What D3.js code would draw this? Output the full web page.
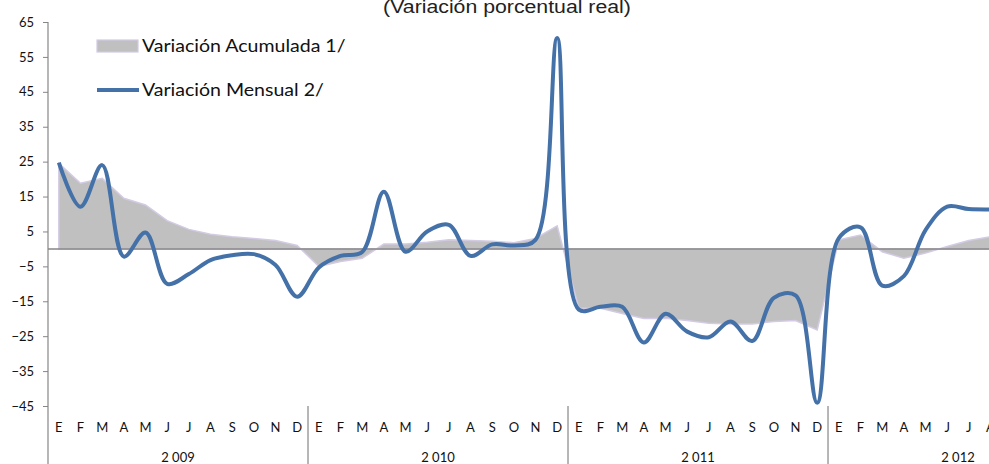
<!DOCTYPE html>
<html><head><meta charset="utf-8">
<script src="https://cdn.jsdelivr.net/npm/d3@7"></script>
<style>body{margin:0;background:#fff}svg{display:block}</style>
</head><body>
<svg id="c" width="989" height="464"></svg>
<script>
const monthLabels = ["E","F","M","A","M","J","J","A","S","O","N","D"];
const years = ["2 009","2 010","2 011","2 012"];
const monthsPerYear = [12,12,12,8];
const yTicks = [65,55,45,35,25,15,5,-5,-15,-25,-35,-45];
// Variación Acumulada 1/
const acumulada = [
 24.5,18.8,20.2,14.5,12.6,8.1,5.6,4.2,3.5,3.0,2.4,1.0,
 -5.0,-3.6,-2.7,1.4,1.4,1.9,2.6,2.4,2.2,1.8,3.0,6.6,
 -17.0,-17.0,-18.5,-19.9,-19.9,-20.5,-21.3,-21.5,-21.5,-20.8,-20.5,-23.2,
 2.6,4.0,-0.8,-2.7,-1.2,0.7,2.4,3.5
];
// Variación Mensual 2/
const mensual = [
 24.7,12.1,24.0,-2.2,4.7,-10.0,-7.2,-3.2,-1.8,-1.5,-4.6,-13.7,
 -5.3,-2.0,-0.9,16.4,-0.8,5.0,6.9,-2.0,1.3,1.0,2.6,60.4,
 -17.4,-16.6,-16.6,-26.8,-18.6,-23.7,-25.3,-20.8,-26.4,-14.0,-13.3,-44.1,
 3.1,6.2,-10.5,-7.8,5.4,12.1,11.4,11.3
];

const svg = d3.select("#c");
const N = mensual.length;
const idx = d3.range(N);
const x0 = 48, step = 21.667;
const x = d3.scaleBand().domain(idx).range([x0, x0 + N*step]).padding(0);
const y = d3.scaleLinear().domain([-45,65]).range([406,22]);
const cx = i => x(i) + x.bandwidth()/2;
const axisColor = "#868686";
const tickFont = "Lato, 'Open Sans', sans-serif";

function stext(parent, tx, ty, txt, opts) {
  const g = parent.append("g").attr("transform", `translate(${tx},${ty}) scale(${opts.sx||1},1)`);
  return g.append("text").attr("x",0).attr("y",0).attr("dy",opts.dy||"0.35em")
    .attr("text-anchor",opts.anchor||"start")
    .attr("font-family",opts.font||tickFont).attr("font-size",opts.size||13)
    .attr("fill",opts.fill||"#111").text(txt);
}

// title (partly cut at the top edge, as in the reference)
stext(svg, 507, 7, "(Variación porcentual real)",
  {anchor:"middle", dy:0, font:"'Liberation Sans', Arial, sans-serif", size:18.5, sx:1.15, fill:"#222"});

// area
const area = d3.area().x((d,i)=>cx(i)).y0(y(0)).y1(d=>y(d));
svg.append("path").datum(acumulada).attr("d",area)
  .attr("fill","#c0c0c0").attr("stroke","#d3cae3").attr("stroke-width",1.5);

// zero line
svg.append("line").attr("x1",x0).attr("x2",989).attr("y1",y(0)).attr("y2",y(0))
  .attr("stroke",axisColor).attr("stroke-width",1.5);

// monthly line
const line = d3.line().x((d,i)=>cx(i)).y(d=>y(d)).curve(d3.curveCatmullRom.alpha(0.5));
svg.append("path").datum(mensual).attr("d",line)
  .attr("fill","none").attr("stroke","#4471a8").attr("stroke-width",4).attr("stroke-linejoin","round");

// y axis
const yAxis = d3.axisLeft(y).tickValues(yTicks).tickSize(5).tickSizeOuter(0);
const gy = svg.append("g").attr("transform",`translate(${x0},0)`).call(yAxis);
gy.select(".domain").remove();
gy.selectAll(".tick line").attr("stroke",axisColor);
gy.selectAll(".tick text").attr("font-family",tickFont).attr("font-size",13).attr("fill","#111").attr("x",-14);
svg.append("line").attr("x1",x0).attr("x2",x0).attr("y1",22).attr("y2",464).attr("stroke",axisColor).attr("stroke-width",1.2);

// month labels
const monthIdx = [];
monthsPerYear.forEach((n,yi)=>{ for(let m=0;m<n;m++) monthIdx.push(m); });
svg.append("g").selectAll("text").data(idx).join("text")
  .attr("x",i=>cx(i)).attr("y",427).attr("dy","0.35em").attr("text-anchor","middle")
  .attr("font-family",tickFont).attr("font-size",13).attr("fill","#111")
  .text(i=>monthLabels[monthIdx[i]]);

// year labels and separators
let start = 0;
monthsPerYear.forEach((n,yi)=>{
  const xs = x(start), xe = x0 + (start+12)*step;
  svg.append("text").attr("x",(xs+xe)/2).attr("y",457).attr("dy","0.35em").attr("text-anchor","middle")
    .attr("font-family",tickFont).attr("font-size",13).attr("fill","#111").text(years[yi]);
  if (yi>0) svg.append("line").attr("x1",xs).attr("x2",xs).attr("y1",406).attr("y2",464)
    .attr("stroke",axisColor).attr("stroke-width",1.2);
  start += n;
});

// legend
const lg = svg.append("g");
lg.append("rect").attr("x",97).attr("y",40).attr("width",41).attr("height",12)
  .attr("fill","#c0c0c0").attr("stroke","#d3cae3").attr("stroke-width",1.2);
stext(lg, 142, 46, "Variación Acumulada 1/", {size:17, sx:1.15});
lg.append("line").attr("x1",97).attr("x2",139).attr("y1",90).attr("y2",90)
  .attr("stroke","#4471a8").attr("stroke-width",4);
stext(lg, 142, 90, "Variación Mensual 2/", {size:17, sx:1.15});
</script>
</body></html>
